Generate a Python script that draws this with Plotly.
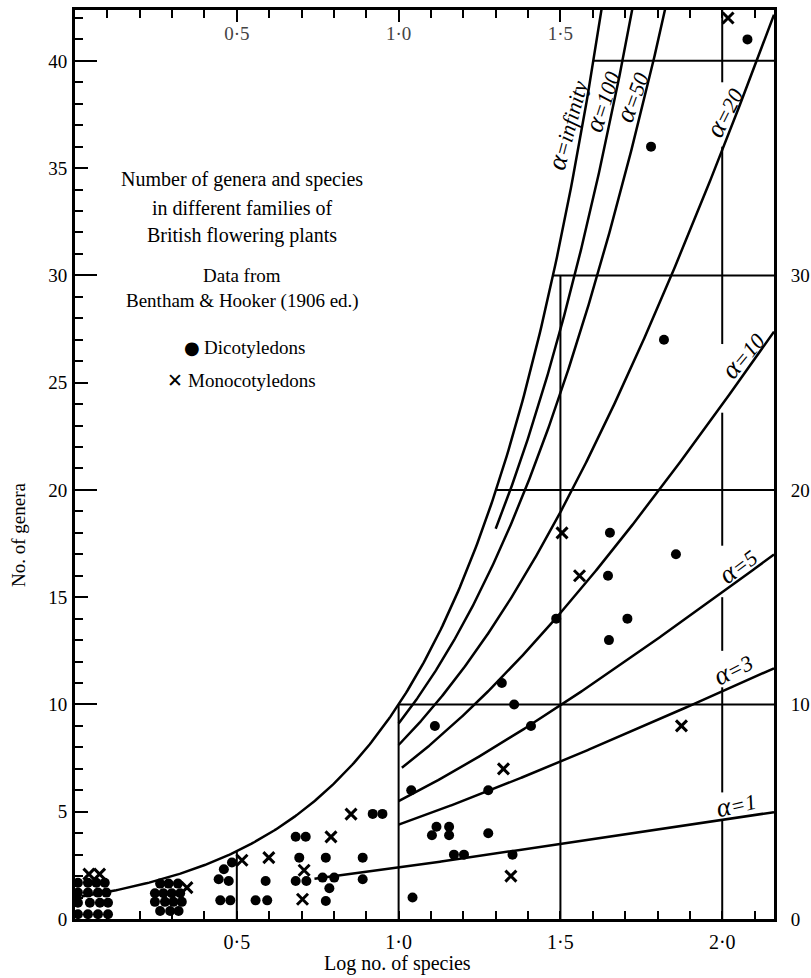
import numpy as np
import plotly.graph_objects as go

# ---------------------------------------------------------------------------
# One point per family: log10(number of species) against number of genera.
# Families sharing the same counts are fanned out into small clusters.
# ---------------------------------------------------------------------------
dicot_log_species = [
    0.009, 0.040, 0.066, 0.092,
    0.009, 0.040, 0.071, 0.097,
    0.009, 0.046, 0.077, 0.102,
    0.009, 0.040, 0.071, 0.102,
    0.263, 0.289, 0.318,
    0.247, 0.273, 0.299, 0.325,
    0.247, 0.278, 0.304, 0.330,
    0.263, 0.294, 0.320,
    0.485, 0.460, 0.444, 0.475, 0.449, 0.480,
    0.558, 0.594, 0.589,
    0.682, 0.713, 0.693, 0.682, 0.715,
    0.775, 0.765, 0.801, 0.786, 0.775,
    0.889, 0.889, 0.920, 0.950,
    1.039, 1.043, 1.112, 1.117, 1.156, 1.103, 1.156, 1.171, 1.202,
    1.277, 1.277, 1.319, 1.357, 1.352, 1.409, 1.487, 1.650, 1.653,
    1.647, 1.707, 1.857, 1.780, 1.820, 2.078,
]
dicot_genera = [
    1.69, 1.69, 1.69, 1.69,
    1.23, 1.23, 1.23, 1.23,
    0.76, 0.76, 0.76, 0.76,
    0.22, 0.22, 0.22, 0.22,
    1.65, 1.65, 1.65,
    1.20, 1.20, 1.20, 1.20,
    0.80, 0.80, 0.80, 0.80,
    0.37, 0.37, 0.37,
    2.63, 2.32, 1.85, 1.77, 0.87, 0.87,
    0.87, 0.87, 1.77,
    3.83, 3.83, 2.86, 1.77, 1.77,
    2.86, 1.93, 1.93, 1.43, 0.84,
    2.86, 1.85, 4.9, 4.9,
    6, 1, 9, 4.3, 4.3, 3.9, 3.9, 3, 3,
    6, 4, 11, 10, 3, 9, 14, 13, 18,
    16, 14, 17, 36, 27, 41,
]
monocot_log_species = [0.043, 0.076, 0.346, 0.516, 0.599, 0.703, 0.708,
                       0.791, 0.853, 1.324, 1.347, 1.505, 1.559, 1.874, 2.018]
monocot_genera = [2.09, 2.09, 1.46, 2.74, 2.86, 0.92, 2.27,
                  3.83, 4.89, 7, 2, 18, 16, 9, 42]

# Index of diversity (alpha) of the log-series reference curves
alpha_values = [1, 3, 5, 10, 20, 50, 100, float("inf")]
alpha_names = ["1", "3", "5", "10", "20", "50", "100", "infinity"]

# Axis ticks
x_tick_values = [0.5, 1.0, 1.5, 2.0]
x_tick_text = ["0·5", "1·0", "1·5", "2·0"]
top_tick_values = [0.5, 1.0, 1.5]
top_tick_text = ["0·5", "1·0", "1·5"]
y_tick_values = [0, 5, 10, 15, 20, 25, 30, 35, 40]
right_tick_values = [0, 10, 20, 30]
grid_levels = [10, 20, 30, 40]

# ---------------------------------------------------------------------------
# Layout constants
# ---------------------------------------------------------------------------
X_MAX = 2.16
Y_MAX = 42.37
FONT = "Liberation Serif"
W, H = 811, 978
ML, MR, MT, MB = 75, 37, 10, 59

# where each alpha line begins (log species)
curve_start = {"1": 0.74, "3": 1.0, "5": 1.0, "10": 1.01, "20": 1.0,
               "50": 1.0, "100": 1.3, "infinity": 0.02}
# label placement: (x, y, angle)
label_place = {
    "1": (2.044, 5.35, -13),
    "3": (2.032, 11.65, -27),
    "5": (2.048, 16.45, -37),
    "10": (2.064, 26.3, -50),
    "20": (2.008, 37.6, -63),
    "50": (1.722, 38.3, -70),
    "100": (1.628, 38.1, -72),
    "infinity": (1.522, 37.0, -75),
}
# breaks in the x = 2 rule where the labels sit
rule_breaks = [(4.6, 5.9), (10.8, 12.5), (15.0, 17.4), (23.6, 26.8), (36.0, 39.0)]


def paper(px, py):
    """Convert a page pixel position to paper coordinates."""
    return (px - ML) / (W - ML - MR), (H - MB - py) / (H - MT - MB)


def genera(alpha, species):
    if np.isinf(alpha):
        return species
    return alpha * np.log1p(species / alpha)


fig = go.Figure()

# --- partial grid: horizontal rules start on the genera = species line ---
gx, gy = [], []
for g in grid_levels:
    gx += [np.log10(g), X_MAX, None]
    gy += [g, g, None]
for xv, top in [(0.5, 10 ** 0.5), (1.0, 10), (1.5, 30)]:
    gx += [xv, xv, None]
    gy += [0, top, None]
lo = 0.0
for a, b in rule_breaks:
    gx += [2.0, 2.0, None]
    gy += [lo, a, None]
    lo = b
gx += [2.0, 2.0]
gy += [lo, Y_MAX]
fig.add_trace(go.Scatter(x=gx, y=gy, mode="lines", line=dict(color="black", width=2),
                         hoverinfo="skip", showlegend=False))

# --- log-series curves ---
for alpha, name in zip(alpha_values, alpha_names):
    lx = np.linspace(curve_start[name], X_MAX, 400)
    ly = genera(alpha, 10 ** lx)
    fig.add_trace(go.Scatter(x=lx, y=ly, mode="lines", line=dict(color="black", width=2.5),
                             xaxis="x2", yaxis="y2", hoverinfo="skip", showlegend=False))
    ax_, ay_, ang = label_place[name]
    fig.add_annotation(x=ax_, y=ay_, xref="x", yref="y",
                       text=f"<i><span style='font-size:27px'>α</span>={name}</i>",
                       textangle=ang, showarrow=False, xanchor="center", yanchor="middle",
                       font=dict(family=FONT, size=22, color="black"))

# --- families ---
fig.add_trace(go.Scatter(x=dicot_log_species, y=dicot_genera, mode="markers",
                         name="Dicotyledons", yaxis="y3", cliponaxis=False,
                         marker=dict(symbol="circle", size=10, color="black")))
fig.add_trace(go.Scatter(x=monocot_log_species, y=monocot_genera, mode="markers",
                         name="Monocotyledons", yaxis="y3", cliponaxis=False,
                         marker=dict(symbol="x-thin", size=11,
                                     line=dict(width=3, color="black"))))

# --- heading and key ---
text_lines = [
    ("Number of genera and species", 242, 180, 20, "center"),
    ("in different families of", 242, 208, 20, "center"),
    ("British flowering plants", 242, 236, 20, "center"),
    ("Data from", 242, 275, 19, "center"),
    ("Bentham & Hooker (1906 ed.)", 242, 301, 19, "center"),
    ("Dicotyledons", 202, 347, 19, "left"),
    ("Monocotyledons", 186, 380, 19, "left"),
]
for txt, px, py, size, anchor in text_lines:
    xp, yp = paper(px, py)
    fig.add_annotation(x=xp, y=yp, xref="paper", yref="paper", text=txt, showarrow=False,
                       xanchor=anchor, yanchor="middle",
                       font=dict(family=FONT, size=size, color="black"))
for sym, px, py, size in [("●", 192, 347, 18), ("✕", 175, 380, 19)]:
    xp, yp = paper(px, py)
    fig.add_annotation(x=xp, y=yp, xref="paper", yref="paper", text=f"<b>{sym}</b>",
                       showarrow=False, xanchor="center", yanchor="middle",
                       font=dict(family="DejaVu Sans", size=size, color="black"))

# axis titles
xp, yp = paper(397, 963)
fig.add_annotation(x=xp, y=yp, xref="paper", yref="paper", text="Log no. of species",
                   showarrow=False, xanchor="center", yanchor="middle",
                   font=dict(family=FONT, size=20, color="black"))
xp, yp = paper(18, 535)
fig.add_annotation(x=xp, y=yp, xref="paper", yref="paper", text="No. of genera",
                   textangle=-90, showarrow=False, xanchor="center", yanchor="middle",
                   font=dict(family=FONT, size=19, color="black"))

minor_x = dict(tickvals=[round(0.1 * i, 1) for i in range(1, 22)], ticks="inside",
               ticklen=8, tickwidth=2, tickcolor="black")
axis_common = dict(showgrid=False, zeroline=False, linecolor="black", linewidth=3,
                   tickcolor="black", tickwidth=2, automargin=False)
tick_font = dict(family=FONT, size=19, color="black")

fig.update_layout(
    width=W, height=H,
    margin=dict(l=ML, r=MR, t=MT, b=MB, pad=0, autoexpand=False),
    plot_bgcolor="white", paper_bgcolor="white",
    showlegend=False,
    font=dict(family=FONT, color="black"),
    xaxis=dict(range=[0, X_MAX], showline=True, ticks="inside", ticklen=8,
               tickmode="array", tickvals=x_tick_values, ticktext=x_tick_text,
               minor=minor_x, ticklabelstandoff=3, tickfont=dict(family=FONT, size=20),
               **axis_common),
    xaxis2=dict(range=[0, X_MAX], overlaying="x", side="top", anchor="y2", showline=True,
                ticks="inside", ticklen=12, tickmode="array", tickvals=top_tick_values,
                ticktext=top_tick_text, ticklabelposition="inside", ticklabelstandoff=6,
                minor=minor_x, tickfont=dict(family=FONT, size=19), **axis_common),
    yaxis=dict(range=[0, Y_MAX], showline=True, ticks="inside", ticklen=13,
               tickmode="array", tickvals=y_tick_values,
               minor=dict(tickvals=list(range(1, 43)), ticks="inside", ticklen=8,
                          tickwidth=2, tickcolor="black"),
               ticklabelstandoff=1, tickfont=tick_font, **axis_common),
    yaxis2=dict(range=[0, Y_MAX], overlaying="y", side="right", anchor="x2", showline=True,
                ticks="", tickmode="array", tickvals=right_tick_values,
                ticklabelstandoff=10, tickfont=tick_font, **axis_common),
    yaxis3=dict(range=[0, Y_MAX], overlaying="y", side="left", anchor="x", showline=False,
                ticks="inside", ticklen=22, tickmode="array", tickvals=grid_levels,
                showticklabels=False, **axis_common),
)

fig.write_html("out.html")
